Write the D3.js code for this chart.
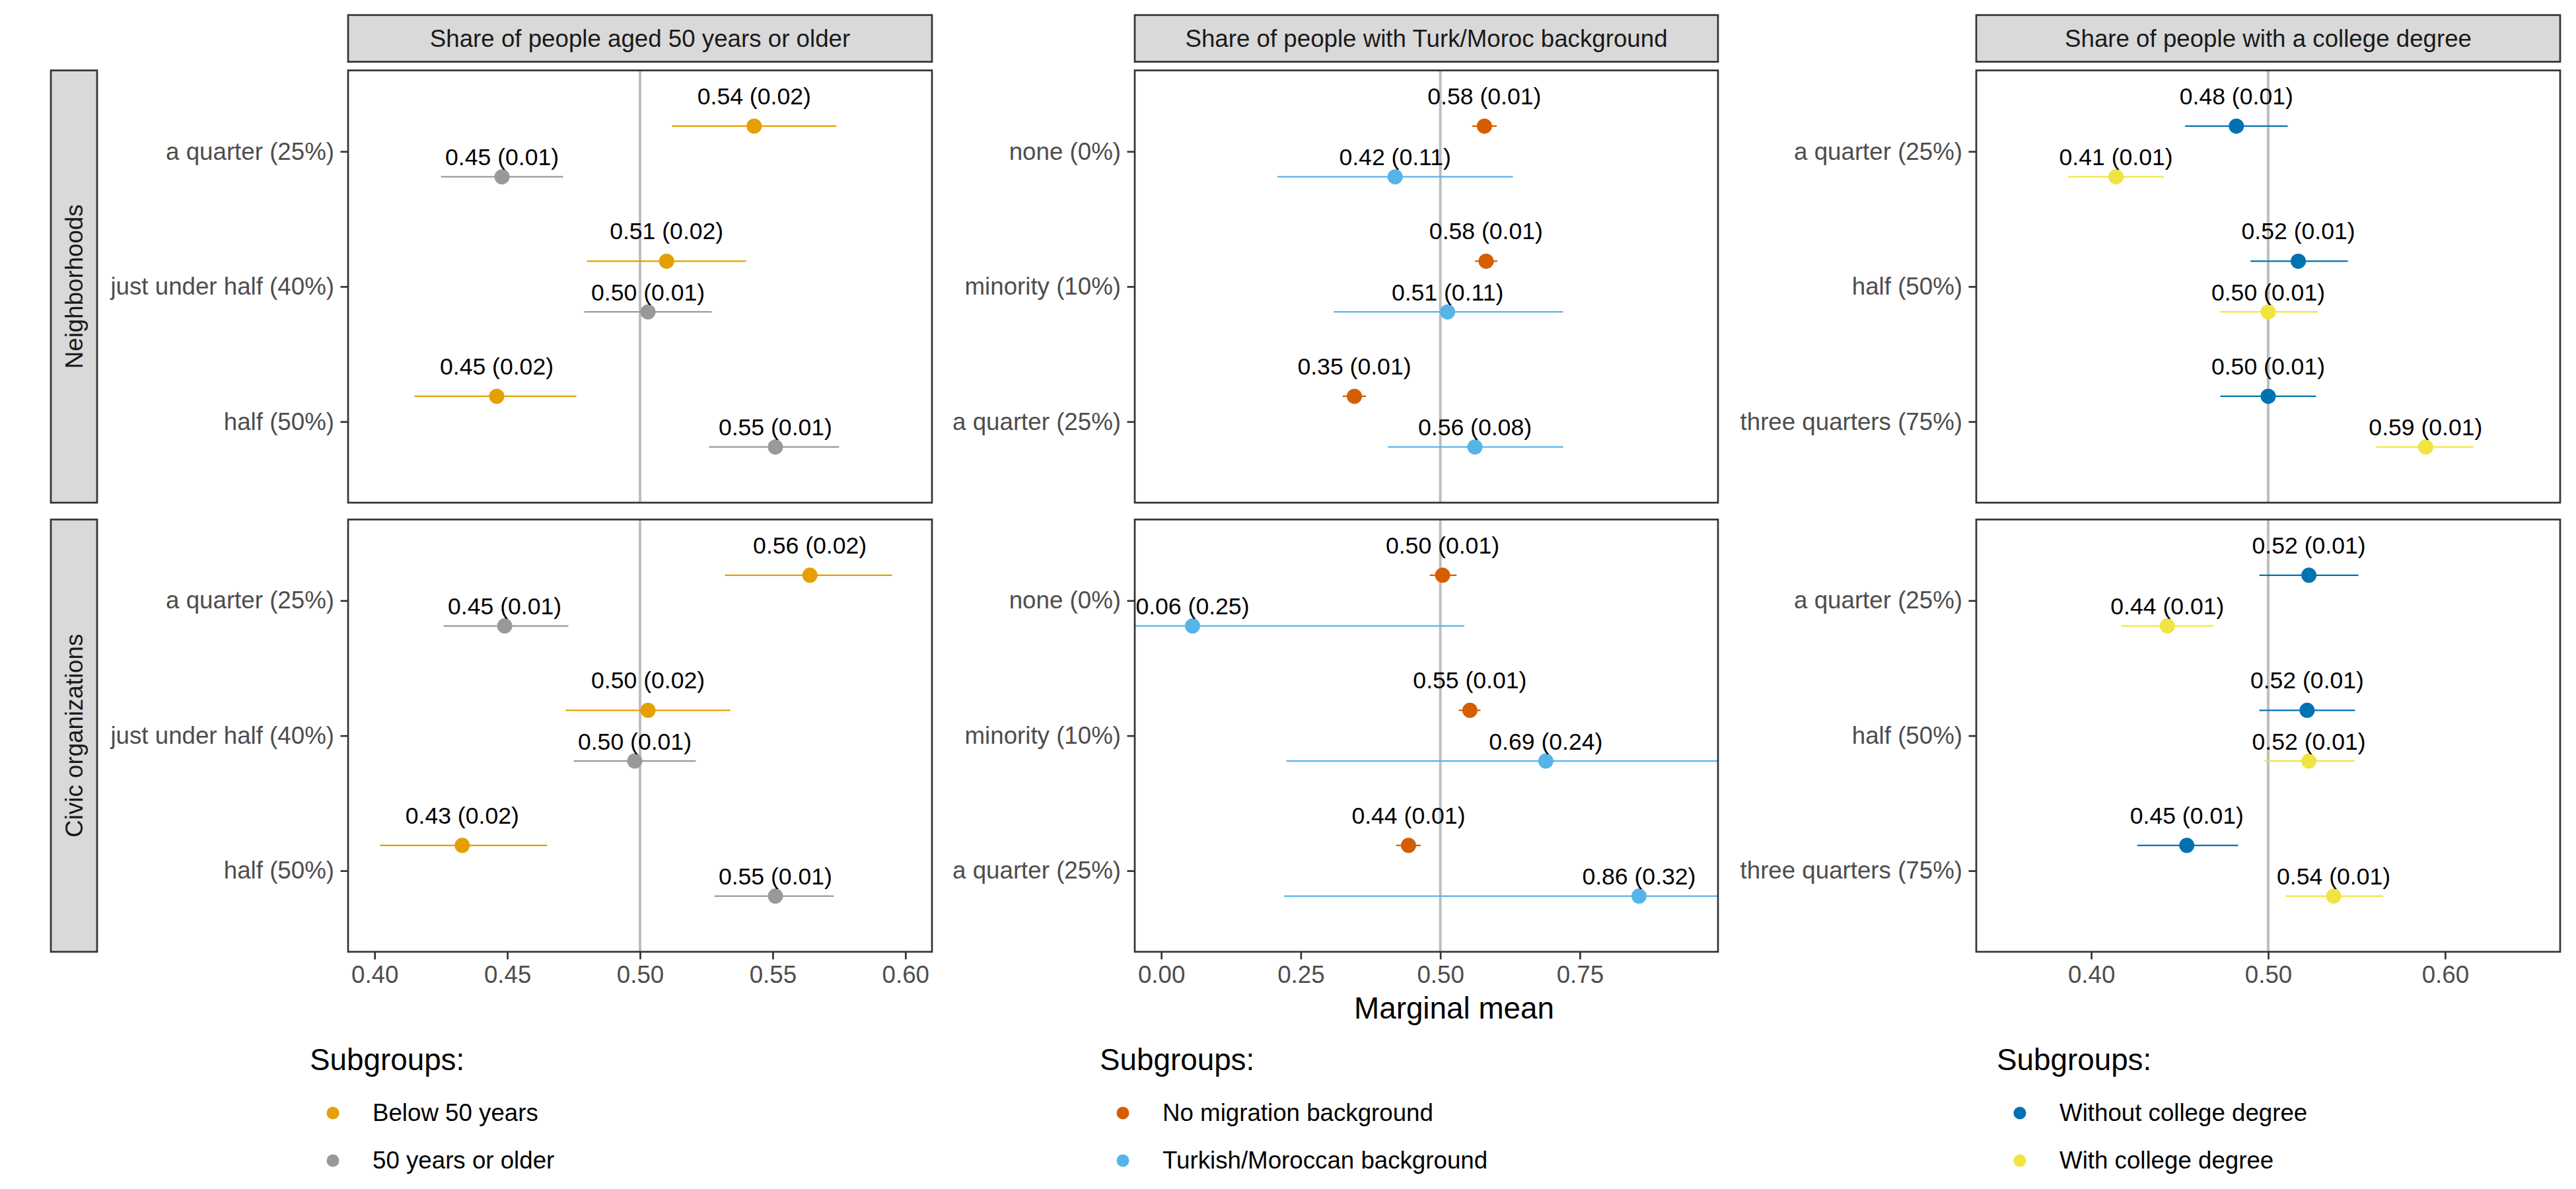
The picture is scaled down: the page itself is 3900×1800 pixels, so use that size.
<!DOCTYPE html>
<html>
<head>
<meta charset="utf-8">
<script src="https://cdn.jsdelivr.net/npm/d3@7"></script>
<style>
  body { margin: 0; background: #fff; }
  svg text { font-family: "Liberation Sans", Arial, sans-serif; }
</style>
</head>
<body>
<script>
// ---- data ----
var rowNames = ["Neighborhoods", "Civic organizations"];
var colTitles = ["Share of people aged 50 years or older",
                 "Share of people with Turk/Moroc background",
                 "Share of people with a college degree"];

var ageLevels = ["a quarter (25%)", "just under half (40%)", "half (50%)"];
var migLevels = ["none (0%)", "minority (10%)", "a quarter (25%)"];
var eduLevels = ["a quarter (25%)", "half (50%)", "three quarters (75%)"];

var ageGroups = ["Below 50 years", "50 years or older"];
var migGroups = ["No migration background", "Turkish/Moroccan background"];
var eduGroups = ["Without college degree", "With college degree"];

var ageTicks = [0.40, 0.45, 0.50, 0.55, 0.60];
var migTicks = [0.00, 0.25, 0.50, 0.75];
var eduTicks = [0.40, 0.50, 0.60];

// arrays are [row][group][level]
var ageEst  = [[[0.543, 0.510, 0.446], [0.448, 0.503, 0.551]],
               [[0.564, 0.503, 0.433], [0.449, 0.498, 0.551]]];
var ageSE   = [[[0.02, 0.02, 0.02], [0.01, 0.01, 0.01]],
               [[0.02, 0.02, 0.02], [0.01, 0.01, 0.01]]];
var ageLow  = [[[0.512, 0.480, 0.415], [0.425, 0.479, 0.526]],
               [[0.532, 0.472, 0.402], [0.426, 0.475, 0.528]]];
var ageHigh = [[[0.574, 0.540, 0.476], [0.471, 0.527, 0.575]],
               [[0.595, 0.534, 0.465], [0.473, 0.521, 0.573]]];

var migEst  = [[[0.579, 0.582, 0.346], [0.419, 0.513, 0.562]],
               [[0.504, 0.553, 0.443], [0.056, 0.689, 0.856]]];
var migSE   = [[[0.01, 0.01, 0.01], [0.11, 0.11, 0.08]],
               [[0.01, 0.01, 0.01], [0.25, 0.24, 0.32]]];
var migLow  = [[[0.557, 0.562, 0.325], [0.208, 0.309, 0.406]],
               [[0.481, 0.533, 0.421], [-0.434, 0.224, 0.220]]];
var migHigh = [[[0.601, 0.602, 0.367], [0.630, 0.720, 0.720]],
               [[0.529, 0.572, 0.465], [0.543, 1.154, 1.492]]];

var eduEst  = [[[0.482, 0.517, 0.500], [0.414, 0.500, 0.589]],
               [[0.523, 0.522, 0.454], [0.443, 0.523, 0.537]]];
var eduSE   = [[[0.01, 0.01, 0.01], [0.01, 0.01, 0.01]],
               [[0.01, 0.01, 0.01], [0.01, 0.01, 0.01]]];
var eduLow  = [[[0.453, 0.490, 0.473], [0.387, 0.473, 0.561]],
               [[0.495, 0.495, 0.426], [0.417, 0.498, 0.510]]];
var eduHigh = [[[0.511, 0.545, 0.527], [0.441, 0.528, 0.616]],
               [[0.551, 0.549, 0.483], [0.469, 0.549, 0.565]]];

// ---- layout ----
var width = 3900, height = 1800;
var rowTop = [106.6, 786.5], rowH = 654.4;
var stripTop = 22.8, stripH = 70.7;
var axisSize = 36.7, labelSize = 35.6, titleSize = 45.8;
var border = "#333333";

var cols = [
  {levels: ageLevels, groups: ageGroups, ticks: ageTicks, est: ageEst, se: ageSE, lo: ageLow, hi: ageHigh,
   colors: ["#E69F00", "#999999"], domain: [0.39, 0.61], x0: 527, x1: 1411, legendX: 469},
  {levels: migLevels, groups: migGroups, ticks: migTicks, est: migEst, se: migSE, lo: migLow, hi: migHigh,
   colors: ["#D55E00", "#56B4E9"], domain: [-0.0475, 0.9975], x0: 1718, x1: 2601, legendX: 1665},
  {levels: eduLevels, groups: eduGroups, ticks: eduTicks, est: eduEst, se: eduSE, lo: eduLow, hi: eduHigh,
   colors: ["#0072B2", "#F0E442"], domain: [0.335, 0.665], x0: 2992, x1: 3876, legendX: 3023}
];

var f2 = d3.format(".2f");

var svg = d3.select("body").append("svg")
  .attr("width", width)
  .attr("height", height);

svg.append("rect").attr("width", width).attr("height", height).attr("fill", "#fff");

var defs = svg.append("defs");

cols.forEach(function(c, ci) {
  var x = d3.scaleLinear().domain(c.domain).range([c.x0, c.x1]);

  // column strip
  svg.append("rect")
    .attr("x", c.x0).attr("y", stripTop)
    .attr("width", c.x1 - c.x0).attr("height", stripH)
    .attr("fill", "#D9D9D9").attr("stroke", border).attr("stroke-width", 2.7);
  svg.append("text")
    .attr("x", (c.x0 + c.x1) / 2).attr("y", stripTop + stripH / 2)
    .attr("dy", "0.36em").attr("text-anchor", "middle")
    .attr("font-size", axisSize).attr("fill", "#1A1A1A")
    .text(colTitles[ci]);

  rowNames.forEach(function(rn, ri) {
    var top = rowTop[ri], bottom = top + rowH;
    var y = d3.scalePoint().domain(c.levels).range([top, bottom]).padding(0.6);
    var step = y.step();
    var g = svg.append("g");

    var clipId = "clip-" + ci + "-" + ri;
    defs.append("clipPath").attr("id", clipId)
      .append("rect").attr("x", c.x0).attr("y", top)
      .attr("width", c.x1 - c.x0).attr("height", rowH);

    g.append("rect")
      .attr("x", c.x0).attr("y", top)
      .attr("width", c.x1 - c.x0).attr("height", rowH)
      .attr("fill", "#fff");

    // reference line at 0.5
    g.append("line")
      .attr("x1", x(0.5)).attr("x2", x(0.5))
      .attr("y1", top).attr("y2", bottom)
      .attr("stroke", "#BEBEBE").attr("stroke-width", 4);

    var pts = [];
    c.groups.forEach(function(gr, gi) {
      c.levels.forEach(function(lv, li) {
        pts.push({g: gi, level: lv, est: c.est[ri][gi][li], se: c.se[ri][gi][li],
                  lo: c.lo[ri][gi][li], hi: c.hi[ri][gi][li]});
      });
    });
    var dodgeP = function(d) { return y(d.level) + (d.g === 0 ? -1 : 1) * 0.1875 * step; };
    var dodgeT = function(d) { return y(d.level) + (d.g === 0 ? -1 : 1) * 0.226 * step - 25.3; };

    g.append("g").attr("clip-path", "url(#" + clipId + ")")
      .selectAll("line").data(pts).enter().append("line")
      .attr("x1", function(d) { return x(d.lo); })
      .attr("x2", function(d) { return x(d.hi); })
      .attr("y1", dodgeP).attr("y2", dodgeP)
      .attr("stroke", function(d) { return c.colors[d.g]; })
      .attr("stroke-width", 2.2);

    g.append("g").selectAll("circle").data(pts).enter().append("circle")
      .attr("cx", function(d) { return x(d.est); })
      .attr("cy", dodgeP)
      .attr("r", 11.5)
      .attr("fill", function(d) { return c.colors[d.g]; });

    g.append("g").selectAll("text").data(pts).enter().append("text")
      .attr("x", function(d) { return x(d.est); })
      .attr("y", dodgeT)
      .attr("text-anchor", "middle")
      .attr("font-size", labelSize).attr("fill", "#000")
      .text(function(d) { return f2(d.est) + " (" + f2(d.se) + ")"; });

    // panel border
    g.append("rect")
      .attr("x", c.x0).attr("y", top)
      .attr("width", c.x1 - c.x0).attr("height", rowH)
      .attr("fill", "none").attr("stroke", border).attr("stroke-width", 2.7);

    // y axis
    var ya = g.append("g").attr("transform", "translate(" + c.x0 + ",0)")
      .call(d3.axisLeft(y).tickSize(11.5).tickPadding(9.5));
    ya.select(".domain").remove();
    ya.selectAll(".tick line").attr("stroke", border).attr("stroke-width", 2.7);
    ya.selectAll(".tick text").attr("font-size", axisSize).attr("fill", "#4D4D4D")
      .attr("font-family", "'Liberation Sans', Arial, sans-serif");

    // x axis only under bottom row
    if (ri === rowNames.length - 1) {
      var xa = g.append("g").attr("transform", "translate(0," + bottom + ")")
        .call(d3.axisBottom(x).tickValues(c.ticks).tickFormat(f2).tickSize(11.5).tickPadding(9.5));
      xa.select(".domain").remove();
      xa.selectAll(".tick line").attr("stroke", border).attr("stroke-width", 2.7);
      xa.selectAll(".tick text").attr("font-size", axisSize).attr("fill", "#4D4D4D")
        .attr("font-family", "'Liberation Sans', Arial, sans-serif");
    }

    // row strips on the left of first column
    if (ci === 0) {
      svg.append("rect")
        .attr("x", 77).attr("y", top).attr("width", 70).attr("height", rowH)
        .attr("fill", "#D9D9D9").attr("stroke", border).attr("stroke-width", 2.7);
      svg.append("text")
        .attr("transform", "translate(112," + (top + rowH / 2) + ") rotate(-90)")
        .attr("dy", "0.36em").attr("text-anchor", "middle")
        .attr("font-size", axisSize).attr("fill", "#1A1A1A")
        .text(rn);
    }
  });

  // legend
  var lg = svg.append("g");
  lg.append("text")
    .attr("x", c.legendX).attr("y", 1620)
    .attr("font-size", titleSize).attr("fill", "#000")
    .text("Subgroups:");
  c.groups.forEach(function(gr, gi) {
    var cy = 1685 + gi * 72;
    lg.append("circle").attr("cx", c.legendX + 35).attr("cy", cy).attr("r", 9.5)
      .attr("fill", c.colors[gi]);
    lg.append("text").attr("x", c.legendX + 95).attr("y", cy + 12.3)
      .attr("font-size", axisSize).attr("fill", "#000")
      .text(gr);
  });
});

// shared x axis title
svg.append("text")
  .attr("x", (cols[0].x0 + cols[2].x1) / 2).attr("y", 1542)
  .attr("text-anchor", "middle")
  .attr("font-size", titleSize).attr("fill", "#000")
  .text("Marginal mean");
</script>
</body>
</html>
